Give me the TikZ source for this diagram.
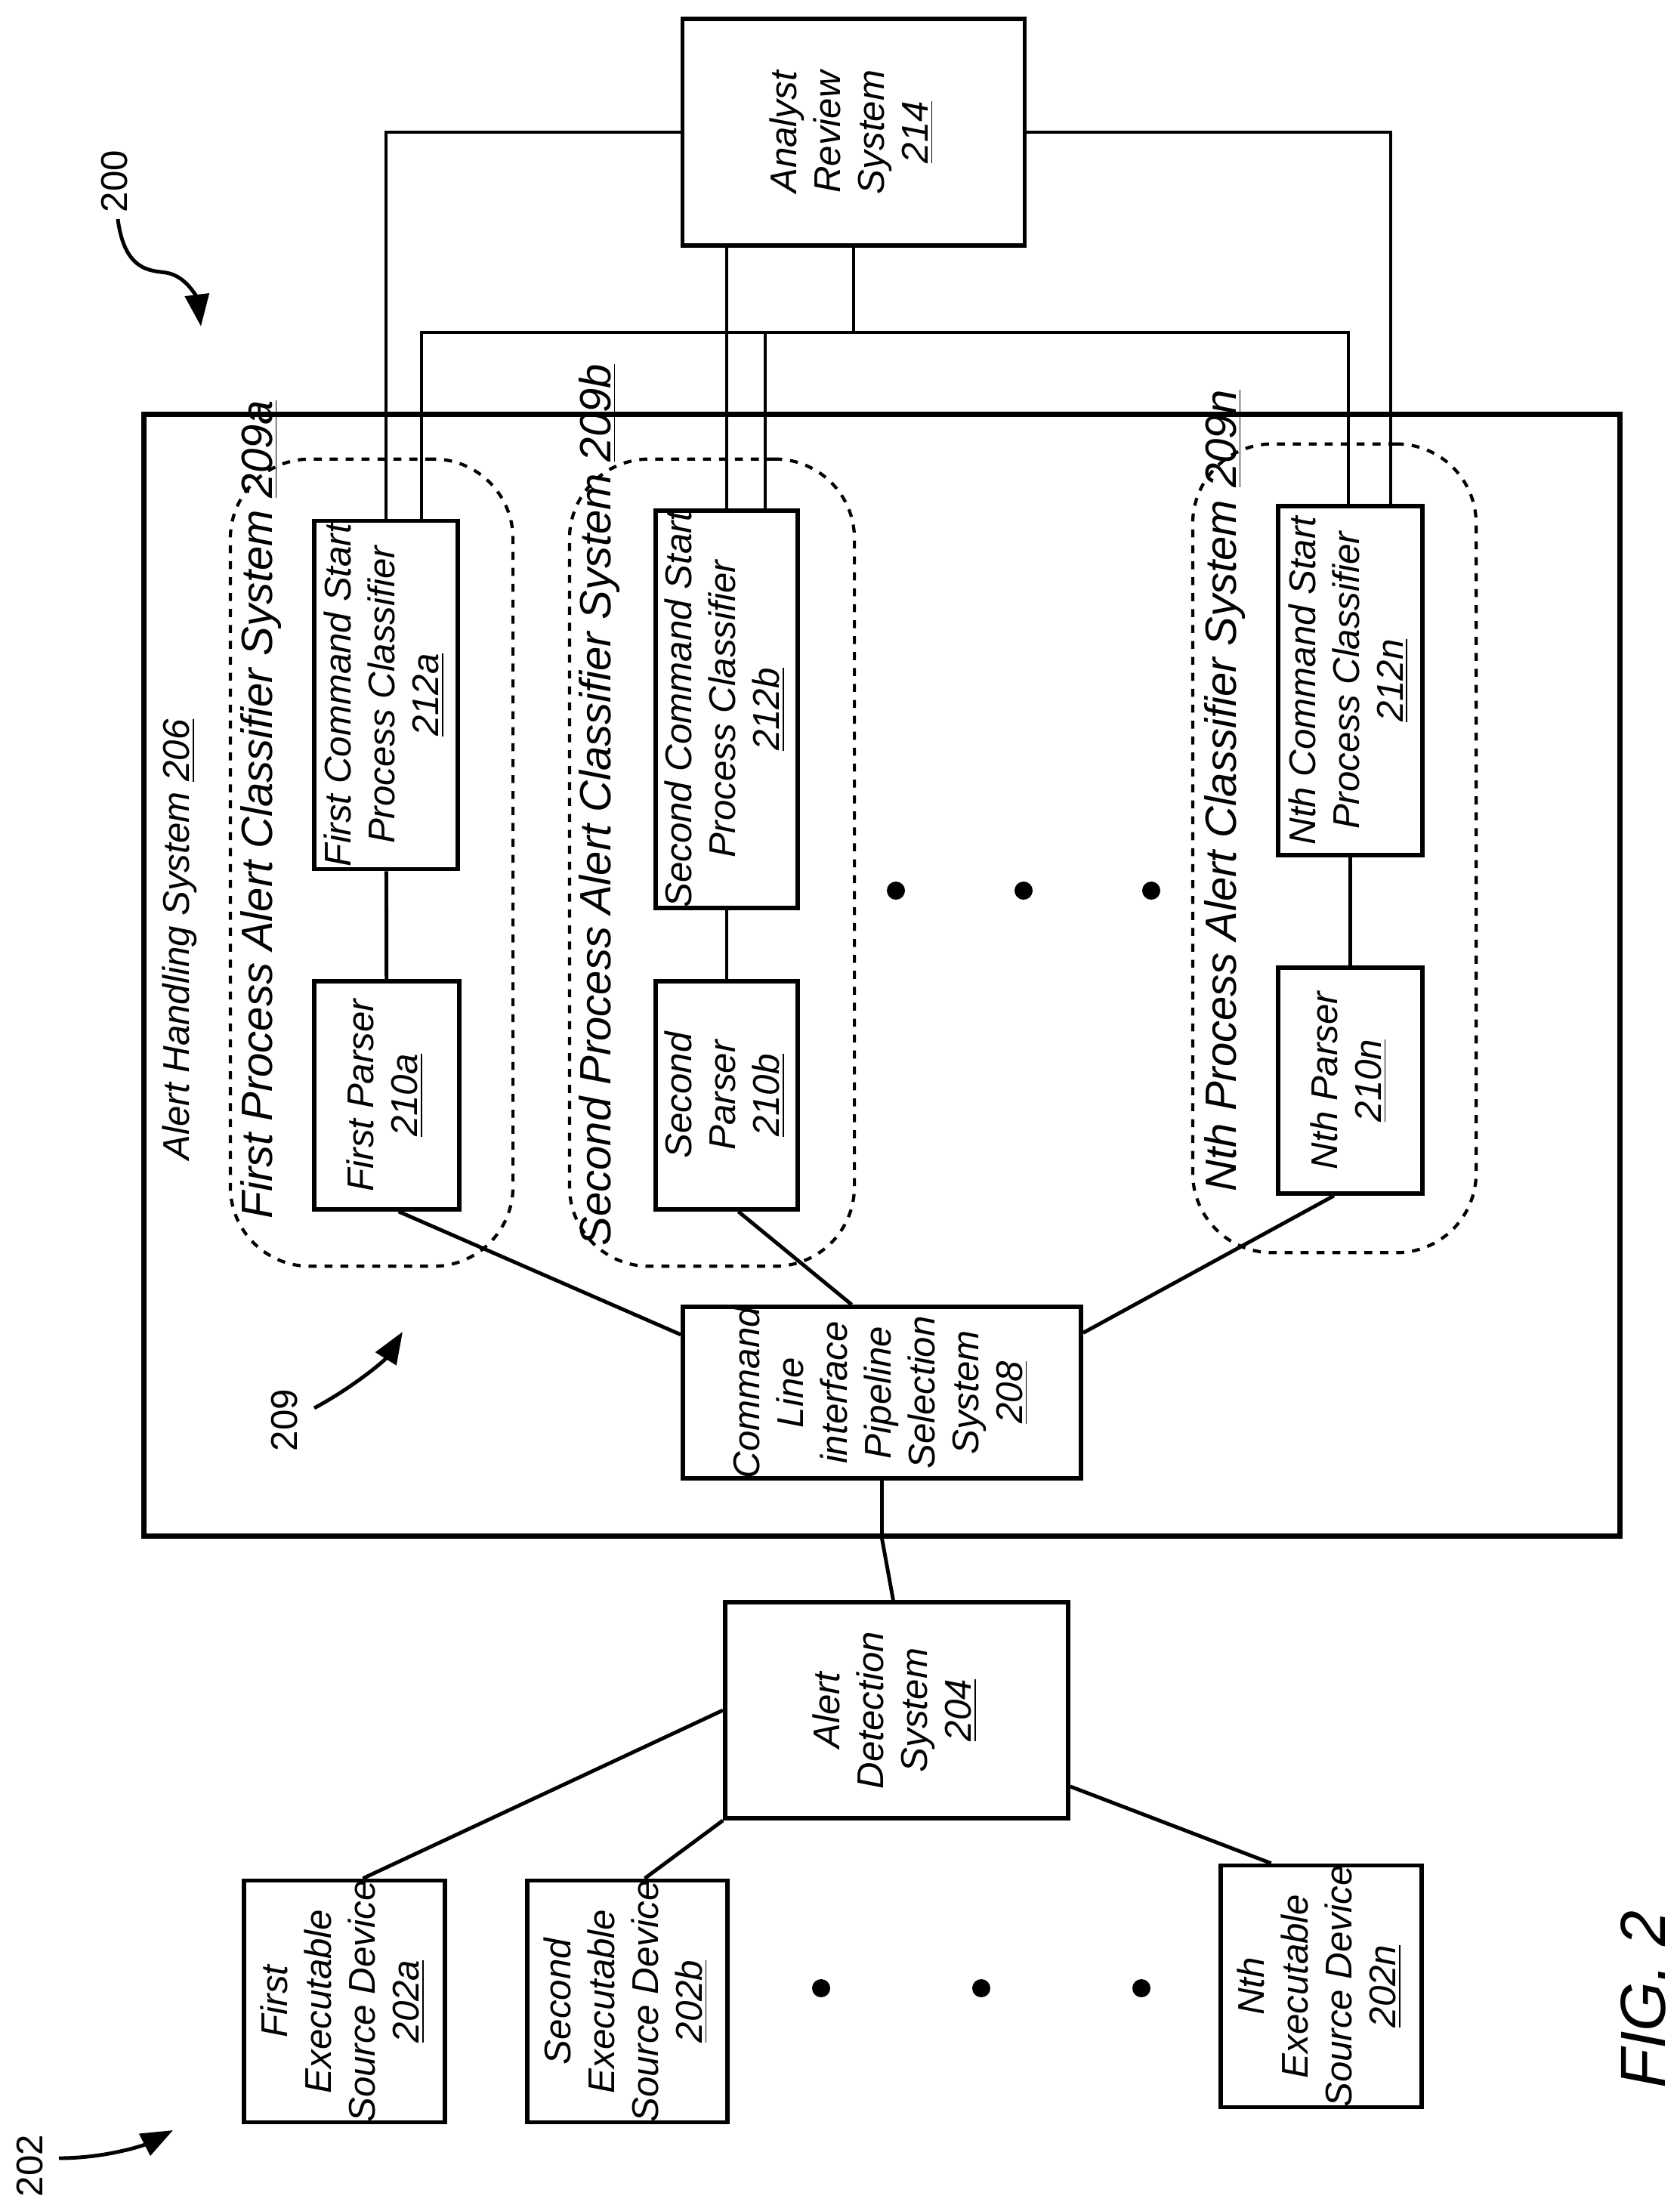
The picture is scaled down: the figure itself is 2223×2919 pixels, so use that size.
\documentclass[tikz,border=0pt]{standalone}
\usepackage{fontspec}
\setmainfont{Liberation Sans}
\usetikzlibrary{calc,arrows.meta}

\newcommand{\vtext}[1]{\rotatebox{90}{\begin{tabular}{@{}c@{}}#1\end{tabular}}}

\tikzset{
  box/.style={draw, line width=1.6pt, inner sep=0pt, font=\fontsize{14}{16.5}\selectfont\itshape},
  group/.style={draw, dashed, line width=1.2pt, rounded corners=30, inner sep=0pt},
  wire/.style={line width=1.4pt},
  grouplabel/.style={rotate=90, anchor=west, inner sep=0pt, font=\fontsize{16.5}{19}\selectfont\itshape},
  refarrow/.style={line width=1.4pt, -{Triangle[length=12pt,width=9pt]}},
  dot/.style={circle, fill, inner sep=0pt, minimum size=0.24cm}
}

\begin{document}
\begin{tikzpicture}[x=0.01cm, y=-0.01cm]
    \useasboundingbox (0,0) rectangle (2223,2919);

    % Outer system and groups
    \node[draw, line width=1.8pt, minimum width=19.53cm, minimum height=14.84cm] (ahs) at (1167.5,1291) {};
    \node[grouplabel, font=\fontsize{14}{16.5}\selectfont\itshape] at (238,1536) {Alert Handling System \underline{206}};

    \node[group, minimum width=3.74cm, minimum height=10.68cm] (g209a) at (492,1142) {};
    \node[group, minimum width=3.77cm, minimum height=10.68cm] (g209b) at (942.5,1142) {};
    \node[group, minimum width=3.75cm, minimum height=10.70cm] (g209n) at (1766.5,1123) {};
    \node[grouplabel] at (345,1614) {First Process Alert Classifier System \underline{209a}};
    \node[grouplabel] at (793,1650) {Second Process Alert Classifier System \underline{209b}};
    \node[grouplabel] at (1621,1578) {Nth Process Alert Classifier System \underline{209n}};

    % Boxes
    \node[box, minimum width=4.53cm, minimum height=3.00cm] (ars) at (1130,175) {\vtext{Analyst\\Review\\System\\\underline{214}}};
    \node[box, minimum width=1.90cm, minimum height=4.61cm] (c212a) at (511,920) {\vtext{First Command Start\\Process Classifier\\\underline{212a}}};
    \node[box, minimum width=1.92cm, minimum height=3.02cm] (p210a) at (512,1450) {\vtext{First Parser\\\underline{210a}}};
    \node[box, minimum width=1.88cm, minimum height=4.98cm] (c212b) at (962,939) {\vtext{Second Command Start\\Process Classifier\\\underline{212b}}};
    \node[box, minimum width=1.88cm, minimum height=3.02cm] (p210b) at (962,1450) {\vtext{Second\\Parser\\\underline{210b}}};
    \node[box, minimum width=1.91cm, minimum height=4.62cm] (c212n) at (1787.5,901) {\vtext{Nth Command Start\\Process Classifier\\\underline{212n}}};
    \node[box, minimum width=1.91cm, minimum height=2.99cm] (p210n) at (1787.5,1430.5) {\vtext{Nth Parser\\\underline{210n}}};
    \node[box, minimum width=5.27cm, minimum height=2.25cm] (cli208) at (1167.5,1843.5) {\vtext{Command\\Line\\interface\\Pipeline\\Selection\\System\\\underline{208}}};
    \node[box, minimum width=4.54cm, minimum height=2.86cm] (ads204) at (1187,2264) {\vtext{Alert\\Detection\\System\\\underline{204}}};
    \node[box, minimum width=2.66cm, minimum height=3.03cm] (d202a) at (456,2649.5) {\vtext{First\\Executable\\Source Device\\\underline{202a}}};
    \node[box, minimum width=2.65cm, minimum height=3.03cm] (d202b) at (830.5,2649.5) {\vtext{Second\\Executable\\Source Device\\\underline{202b}}};
    \node[box, minimum width=2.66cm, minimum height=3.05cm] (d202n) at (1749,2629.5) {\vtext{Nth\\Executable\\Source Device\\\underline{202n}}};

    % Review wiring
    \coordinate (busL) at (558,440);
    \coordinate (busR) at (1785,440);
    \coordinate (sideR) at (1841,175);
    \coordinate (dropB) at (1013,440);
    \draw[wire] (ars.west) -| (c212a.north);
    \draw[wire] (c212a.north -| busL) -- (busL) -- (busR) -- (c212n.north -| busR);
    \draw[wire] (ars.south) -- (ars.south |- busL);
    \draw[wire] (ars.south -| c212b.north) -- (c212b.north);
    \draw[wire] (dropB) -- (c212b.north -| dropB);
    \draw[wire] (ars.east) -- (sideR) -- (c212n.north -| sideR);

    % Pipelines
    \draw[wire] (c212a) -- (p210a);
    \draw[wire] (c212b) -- (p210b);
    \draw[wire] (c212n) -- (p210n);
    \draw[wire] ($(p210a.south west)!0.58!(p210a.south east)$) -- ($(cli208.north west)!0.17!(cli208.south west)$);
    \draw[wire] ($(p210b.south west)!0.58!(p210b.south east)$) -- ($(cli208.north west)!0.425!(cli208.north east)$);
    \draw[wire] ($(p210n.south west)!0.39!(p210n.south east)$) -- ($(cli208.north east)!0.16!(cli208.south east)$);

    % Detection and sources
    \draw[wire] (cli208.south) -- (cli208.south |- ahs.south) -- ($(ads204.north west)!0.49!(ads204.north east)$);
    \draw[wire] (ads204.west) -- ($(d202a.north west)!0.59!(d202a.north east)$);
    \draw[wire] (ads204.south west) -- ($(d202b.north west)!0.585!(d202b.north east)$);
    \draw[wire] ($(ads204.north east)!0.846!(ads204.south east)$) -- ($(d202n.north west)!0.256!(d202n.north east)$);

    % Ellipsis dots
    \foreach \x in {1186,1355,1524}
        \node[dot] at (\x,1179) {};
    \foreach \x in {1087,1299,1511}
        \node[dot] at (\x,2632) {};

    % Reference labels
    \node[rotate=90, font=\fontsize{14}{16}\selectfont] (r200) at (152,240) {200};
    \draw[refarrow] (156,290) .. controls (165,360) and (200,358) .. (220,361) .. controls (250,366) and (262,400) .. (266,432);
    \node[rotate=90, font=\fontsize{14}{16}\selectfont] (r209) at (377,1880) {209};
    \draw[refarrow] (416,1864) .. controls (470,1835) and (510,1800) .. (533,1763);
    \node[rotate=90, font=\fontsize{14}{16}\selectfont] (r202) at (40,2867) {202};
    \draw[refarrow] (78,2857) .. controls (140,2857) and (190,2840) .. (229,2820);
    \node[rotate=90, font=\fontsize{24}{28}\selectfont\itshape] (fig) at (2175,2647) {FIG. 2};
\end{tikzpicture}
\end{document}
